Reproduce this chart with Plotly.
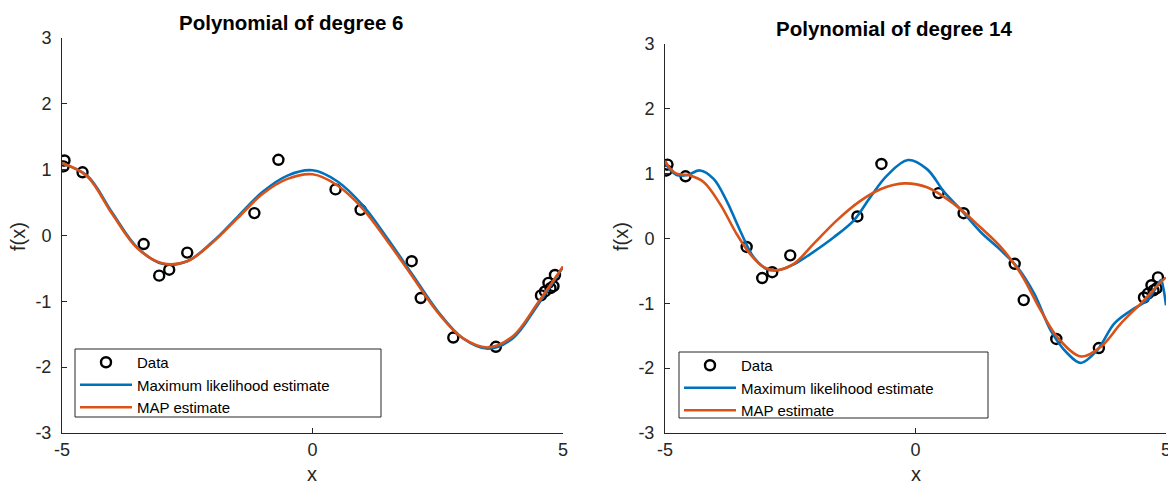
import plotly.graph_objects as go

# ---------------- data ----------------
data_x = [-4.97, -4.95, -4.59, -3.37, -3.06, -2.86, -2.50, -1.16, -0.68,
          0.46, 0.96, 1.98, 2.16, 2.81, 3.66,
          4.56, 4.64, 4.71, 4.75, 4.81, 4.84]
data_y = [1.05, 1.14, 0.96, -0.13, -0.61, -0.52, -0.26, 0.34, 1.15,
          0.70, 0.39, -0.39, -0.95, -1.55, -1.69,
          -0.91, -0.85, -0.72, -0.80, -0.77, -0.60]

# degree 6
d6_x = [-5.0, -4.5, -4.0, -3.5, -3.0, -2.5, -2.0, -1.5, -1.0, -0.5,
        0.0, 0.5, 1.0, 1.5, 2.0, 2.5, 3.0, 3.5, 4.0, 4.5, 5.0]
d6_mle = [1.09, 0.91, 0.35, -0.18, -0.43, -0.39, -0.10, 0.28, 0.66, 0.91,
          0.99, 0.82, 0.46, -0.05, -0.60, -1.15, -1.56, -1.72, -1.56, -1.05, -0.48]
d6_map = [1.10, 0.90, 0.33, -0.19, -0.42, -0.39, -0.11, 0.26, 0.63, 0.86,
          0.93, 0.76, 0.41, -0.09, -0.63, -1.17, -1.56, -1.70, -1.53, -1.02, -0.47]

# degree 14
d14_mle_x = [-5.0, -4.9, -4.77, -4.55, -4.3, -4.03, -3.77, -3.5, -3.23, -2.97, -2.75,
             -2.43, -2.1, -1.63, -1.23, -0.9, -0.57, -0.15, 0.23, 0.57, 0.9, 1.3,
             1.7, 2.03, 2.37, 2.7, 3.03, 3.3, 3.63, 3.97, 4.3, 4.63, 4.8, 4.9, 4.95, 5.0]
d14_mle_y = [1.17, 1.06, 0.98, 0.98, 1.05, 0.92, 0.58, 0.12, -0.29, -0.47, -0.49,
             -0.40, -0.24, 0.02, 0.28, 0.64, 0.97, 1.21, 1.07, 0.72, 0.45, 0.10,
             -0.18, -0.44, -0.85, -1.42, -1.77, -1.92, -1.72, -1.31, -1.11, -0.95, -0.76, -0.64, -0.78, -1.03]
d14_map_x = [-5.0, -4.9, -4.77, -4.5, -4.23, -3.9, -3.57, -3.3, -3.03, -2.8, -2.43,
             -2.03, -1.57, -1.1, -0.7, -0.23, 0.23, 0.77, 1.3, 1.7, 2.1, 2.5, 2.83,
             3.3, 3.7, 4.1, 4.5, 4.9, 5.0]
d14_map_y = [1.20, 1.08, 1.00, 0.97, 0.87, 0.53, 0.07, -0.24, -0.44, -0.49, -0.39,
             -0.08, 0.28, 0.58, 0.76, 0.85, 0.79, 0.53, 0.17, -0.13, -0.54, -1.11, -1.52,
             -1.82, -1.67, -1.31, -1.00, -0.67, -0.60]

titles = ["Polynomial of degree 6", "Polynomial of degree 14"]
x_ticks = [-5, 0, 5]
x_tick_labels = ["-5", "0", "5"]
y_ticks = [-3, -2, -1, 0, 1, 2, 3]
y_tick_labels = ["-3", "-2", "-1", "0", "1", "2", "3"]

# ---------------- style ----------------
BLUE = "#0072BD"
ORANGE = "#D95319"
AX = "#262626"
FONT = "Liberation Sans, Arial, Helvetica, sans-serif"
# page has an 8px body margin: figure pixel = page pixel - 8
OFF = 8
W, H = 1168, 478

fig = go.Figure()

panels = [
    dict(xa="x", ya="y", leg="legend", mle_x=d6_x, mle=d6_mle, map_x=d6_x, map=d6_map),
    dict(xa="x2", ya="y2", leg="legend2", mle_x=d14_mle_x, mle=d14_mle_y,
         map_x=d14_map_x, map=d14_map_y),
]

for p in panels:
    fig.add_trace(go.Scatter(x=data_x, y=data_y, mode="markers", name="Data",
                             xaxis=p["xa"], yaxis=p["ya"], legend=p["leg"],
                             marker=dict(symbol="circle-open", size=10, color="black",
                                         line=dict(width=2.4, color="black"))))
    fig.add_trace(go.Scatter(x=p["mle_x"], y=p["mle"], mode="lines",
                             name="Maximum likelihood estimate",
                             xaxis=p["xa"], yaxis=p["ya"], legend=p["leg"],
                             line=dict(color=BLUE, width=2.6, shape="spline", smoothing=1.0)))
    fig.add_trace(go.Scatter(x=p["map_x"], y=p["map"], mode="lines",
                             name="MAP estimate",
                             xaxis=p["xa"], yaxis=p["ya"], legend=p["leg"],
                             line=dict(color=ORANGE, width=2.6, shape="spline", smoothing=1.0)))

def px_x(v):
    return (v - OFF) / W

def px_y(v):
    return 1 - (v - OFF) / H

axis_common = dict(showgrid=False, zeroline=False, showline=True, linecolor=AX, linewidth=1,
                   ticks="inside", ticklen=5, tickwidth=1, tickcolor=AX, automargin=False,
                   tickfont=dict(family=FONT, size=18, color=AX), mirror=False)

doms = [
    dict(x=(62, 563), y=(38, 433), title_y=22, leg=(75, 349, 381, 417)),
    dict(x=(665, 1166), y=(44, 433), title_y=28, leg=(679, 352, 988, 418)),
]

layout = dict(
    width=W, height=H,
    margin=dict(l=0, r=0, t=0, b=0),
    paper_bgcolor="white", plot_bgcolor="rgba(0,0,0,0)",
    font=dict(family=FONT, color=AX),
)
for i, d in enumerate(doms):
    sx = "" if i == 0 else "2"
    layout["xaxis" + sx] = dict(axis_common, domain=[px_x(d["x"][0]), px_x(d["x"][1])],
                                range=[-5, 5], tickvals=x_ticks, ticktext=x_tick_labels,
                                anchor="y" + sx)
    layout["yaxis" + sx] = dict(axis_common, domain=[px_y(d["y"][1]), px_y(d["y"][0])],
                                range=[-3, 3], tickvals=y_ticks, ticktext=y_tick_labels,
                                anchor="x" + sx, ticklabelstandoff=6)

legend_style = dict(bgcolor="rgba(0,0,0,0)", borderwidth=0,
                    font=dict(family=FONT, size=15, color="black"),
                    xanchor="left", yanchor="top", tracegroupgap=0, itemwidth=52)
layout["legend"] = dict(legend_style, x=px_x(75), y=px_y(346))
layout["legend2"] = dict(legend_style, x=px_x(679), y=px_y(349))

# legend frames (white box with thin dark border)
layout["shapes"] = [
    dict(type="rect", xref="paper", yref="paper", layer="below",
         x0=px_x(d["leg"][0]), x1=px_x(d["leg"][2]),
         y0=px_y(d["leg"][3]), y1=px_y(d["leg"][1]),
         fillcolor="white", line=dict(color=AX, width=1))
    for d in doms
]

fig.update_layout(**layout)

ann = []
for i, d in enumerate(doms):
    cx = (d["x"][0] + d["x"][1]) / 2
    ann.append(dict(text="<b>" + titles[i] + "</b>", x=px_x(cx - 22), y=px_y(d["title_y"]),
                    xref="paper", yref="paper", showarrow=False, xanchor="center",
                    yanchor="middle", font=dict(family=FONT, size=20.5, color="black")))
    ann.append(dict(text="x", x=px_x(cx), y=px_y(474), xref="paper", yref="paper",
                    showarrow=False, xanchor="center", yanchor="middle",
                    font=dict(family=FONT, size=20, color=AX)))
    ann.append(dict(text="f(x)", x=px_x(d["x"][0] - 44), y=px_y(237),
                    xref="paper", yref="paper", showarrow=False, textangle=-90,
                    xanchor="center", yanchor="middle",
                    font=dict(family=FONT, size=20, color=AX)))
fig.update_layout(annotations=ann)

fig.write_html("out.html")
